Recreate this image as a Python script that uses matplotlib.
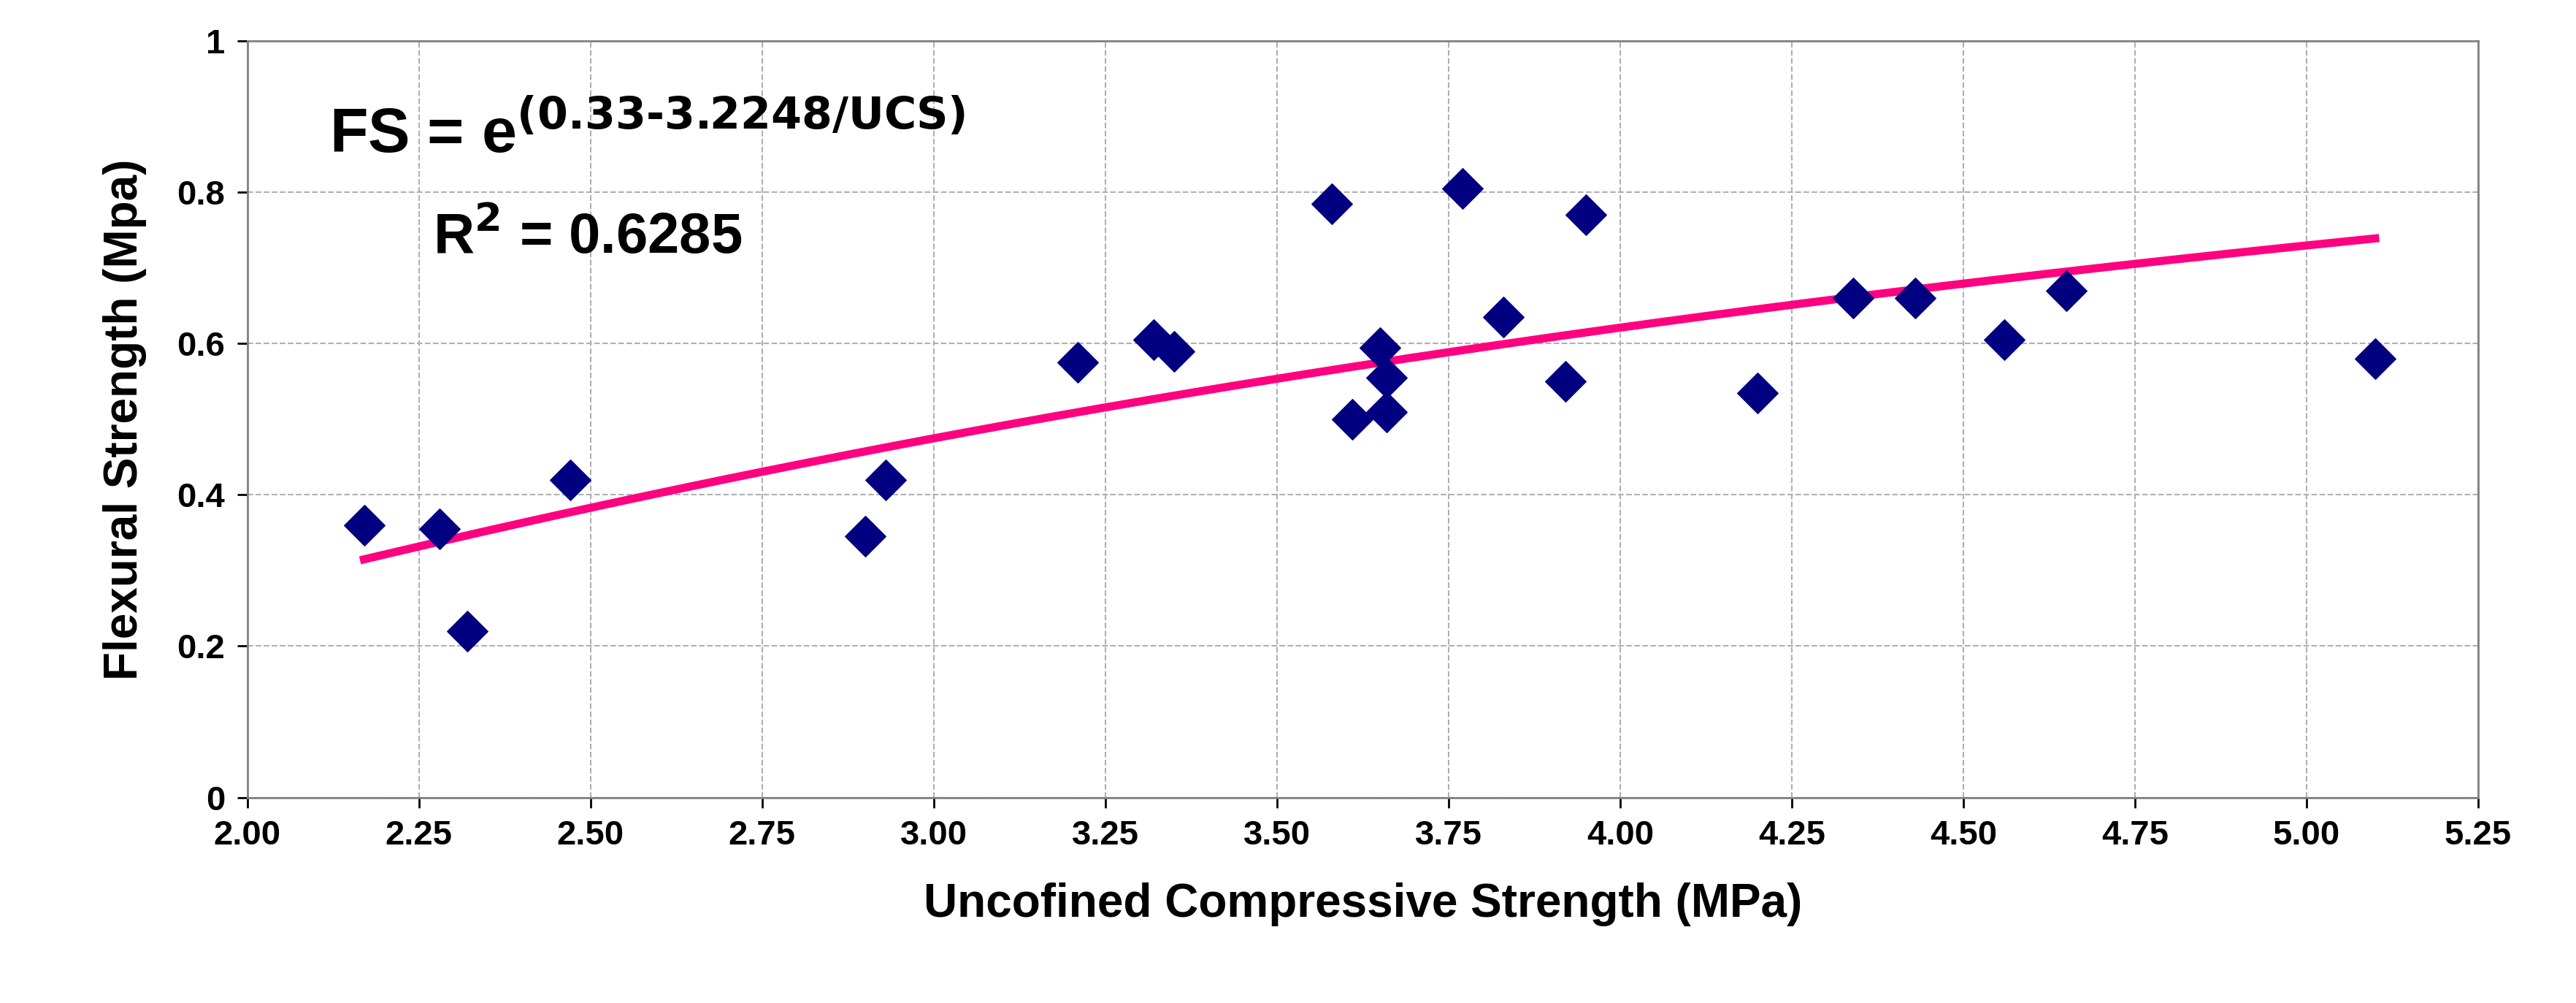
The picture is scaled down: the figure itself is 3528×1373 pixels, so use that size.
import numpy as np
import matplotlib.pyplot as plt

plt.rcParams['font.family'] = ['Liberation Sans', 'DejaVu Sans']
plt.rcParams['font.weight'] = 'bold'

# measured points (UCS, FS)
ucs = [2.17, 2.28, 2.32, 2.47, 2.90, 2.93, 3.21, 3.32, 3.35, 3.58, 3.61, 3.65,
       3.66, 3.66, 3.77, 3.83, 3.92, 3.95, 4.20, 4.34, 4.43, 4.56, 4.65, 5.10]
fs = [0.36, 0.355, 0.22, 0.42, 0.345, 0.42, 0.575, 0.605, 0.59, 0.785, 0.50, 0.595,
      0.555, 0.51, 0.805, 0.635, 0.55, 0.77, 0.535, 0.66, 0.66, 0.605, 0.67, 0.58]

# fitted trend from the chart's equation
fit_a, fit_b = 0.33, 3.2248
xs = np.linspace(min(ucs), max(ucs), 200)
ys = np.exp(fit_a - fit_b / xs)

fig = plt.figure(figsize=(35.28, 13.73), dpi=100)
ax = fig.add_axes([0.096, 0.205, 0.866, 0.754])

ax.plot(xs, ys, color='#ff0080', lw=8, zorder=2)
ax.scatter(ucs, fs, marker='D', s=800, color='#000080', zorder=3)

ax.set_xlim(2.0, 5.25)
ax.set_ylim(0, 1)
ax.set_xticks(np.arange(2.0, 5.26, 0.25))
ax.set_xticklabels([f'{v:.2f}' for v in np.arange(2.0, 5.26, 0.25)])
ax.set_yticks([0, 0.2, 0.4, 0.6, 0.8, 1])
ax.set_yticklabels(['0', '0.2', '0.4', '0.6', '0.8', '1'])
ax.tick_params(labelsize=34, length=10, width=2, pad=12)
ax.grid(True, ls='--', color='#b0b0b0', lw=1.5)
for s in ax.spines.values():
    s.set_color('#808080')
    s.set_linewidth(2)

ax.set_xlabel('Uncofined Compressive Strength (MPa)', fontsize=46, fontweight='bold', labelpad=30)
ax.set_ylabel('Flexural Strength (Mpa)', fontsize=46, fontweight='bold', labelpad=30)

ax.text(2.12, 0.875, r'FS = e$^{\mathbf{(0.33\text{-}3.2248/UCS)}}$', fontsize=62, fontweight='bold', va='center')
ax.text(2.27, 0.74, r'R$^{\mathbf{2}}$ = 0.6285', fontsize=56, fontweight='bold', va='center')

fig.savefig('out.png', dpi=100)
